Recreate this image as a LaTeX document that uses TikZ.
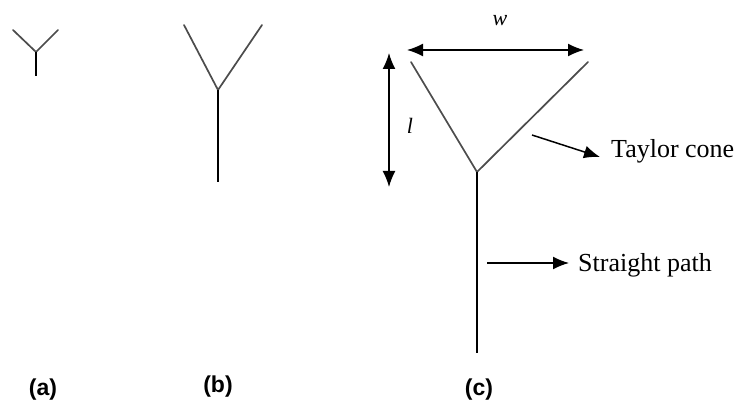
\documentclass[tikz,border=0pt]{standalone}
\usepackage{fontspec}
\setmainfont{Liberation Serif}
\newfontfamily\labfont{Liberation Sans}
\usetikzlibrary{arrows.meta}
\begin{document}
\begin{tikzpicture}[x=1pt,y=-1pt,
  arm/.style={draw=black!70,line width=1.7pt,line cap=round},
  stem/.style={draw=black,line width=1.7pt},
  dimarrow/.style={draw=black,line width=1.5pt,{Latex[length=16pt,width=13pt]}-{Latex[length=16pt,width=13pt]}},
  ptr/.style={draw=black,line width=1.5pt,-{Latex[length=16pt,width=13pt]}},
  caption/.style={font=\labfont\bfseries\fontsize{23}{26}\selectfont,inner sep=0pt},
  sym/.style={font=\itshape\fontsize{22}{24}\selectfont,inner sep=0pt},
  txt/.style={font=\fontsize{26}{30}\selectfont,inner sep=0pt,anchor=base west}]
\useasboundingbox[fill=white] (0,0) rectangle (741,403);
% (a)
\coordinate (aL) at (13,30);
\coordinate (aR) at (58,30);
\coordinate (aA) at (36,52);
\coordinate (aB) at (36,76);
\draw[arm] (aL) -- (aA) -- (aR);
\draw[stem] (aA) -- (aB);
% (b)
\coordinate (bL) at (184,25);
\coordinate (bR) at (262,25);
\coordinate (bA) at (218,90);
\coordinate (bB) at (218,182);
\draw[arm] (bL) -- (bA) -- (bR);
\draw[stem] (bA) -- (bB);
% (c)
\coordinate (cL) at (411,62);
\coordinate (cR) at (588,62);
\coordinate (cA) at (477,172);
\coordinate (cB) at (477,353);
\draw[arm] (cL) -- (cA) -- (cR);
\draw[stem] (cA) -- (cB);
% dimensions
\coordinate (w1) at (407,50);
\coordinate (w2) at (584,50);
\draw[dimarrow] (w1) -- (w2);
\node[sym] (w) at (500,21) {w};
\coordinate (l1) at (389,53);
\coordinate (l2) at (389,187);
\draw[dimarrow] (l1) -- (l2);
\node[sym] (l) at (410,126) {l};
% pointers
\node[txt] (taylor) at (611,158) {Taylor cone};
\coordinate (t0) at (532,135);
\coordinate (t1) at (600,157);
\draw[ptr] (t0) -- (t1);
\node[txt] (straight) at (578,271) {Straight path};
\coordinate (s0) at (487,263);
\coordinate (s1) at (569,263);
\draw[ptr] (s0) -- (s1);
% captions
\node[caption] (ca) at (43,390) {(a)};
\node[caption] (cb) at (218,387) {(b)};
\node[caption] (cc) at (479,390) {(c)};
\end{tikzpicture}
\end{document}
